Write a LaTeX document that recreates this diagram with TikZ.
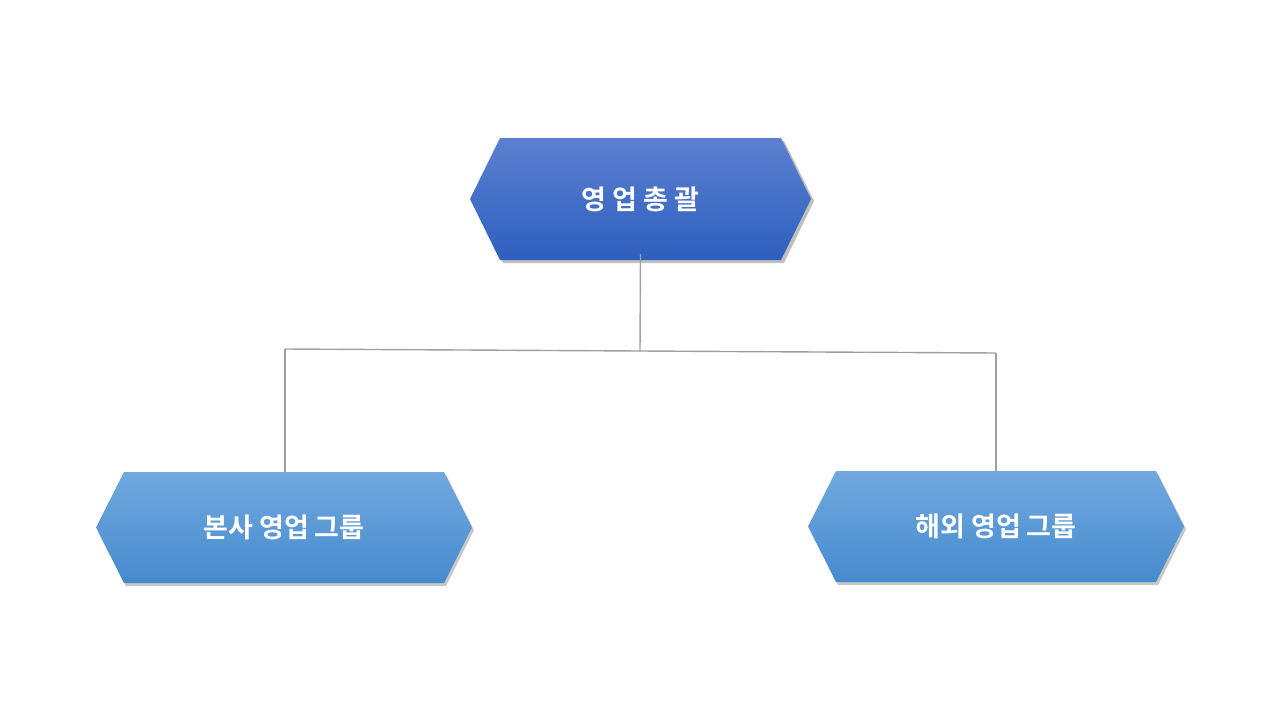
\documentclass[tikz,border=0pt]{standalone}
\usepackage{fontspec}
\newfontfamily\kr{Noto Sans CJK KR Bold}
\begin{document}
\begin{tikzpicture}[x=1pt,y=-1pt,
  lbl/.style={text=white,font=\kr\fontsize{27}{30}\selectfont,inner sep=0pt,minimum width=340pt,minimum height=110pt},
  conn/.style={draw=gray!75,line width=1.4pt}]
\useasboundingbox (0,0) rectangle (1280,720);
\fill[black!25] (473,201) -- (503,141) -- (784,141) -- (814,201) -- (784,263) -- (503,263) -- cycle;
\shade[top color={rgb,255:red,92;green,128;blue,208},bottom color={rgb,255:red,45;green,95;blue,190}]
  (470,199) -- (500,138) -- (781,138) -- (811,199) -- (781,260) -- (500,260) -- cycle;
\node[lbl] (top) at (640.5,199) {영 업 총 괄};
\foreach \x/\y/\n/\t in {96/472/L/본사 영업 그룹, 808/471/R/해외 영업 그룹}{
  \fill[black!22] (\x+2,\y+58) -- (\x+30,\y+3) -- (\x+350,\y+3) -- (\x+378,\y+58) -- (\x+350,\y+114) -- (\x+30,\y+114) -- cycle;
  \shade[top color={rgb,255:red,113;green,169;blue,223},bottom color={rgb,255:red,70;green,138;blue,206}]
    (\x,\y+55.5) -- (\x+28,\y) -- (\x+348,\y) -- (\x+376,\y+55.5) -- (\x+348,\y+111) -- (\x+28,\y+111) -- cycle;
  \node[lbl,minimum width=370pt] (\n) at (\x+188,\y+55.5) {\t};
}
\coordinate (jl) at (285,349);
\coordinate (jm) at (640,351);
\coordinate (jr) at (996,353);
\draw[conn] (top.south) -- (jm);
\draw[conn] (jl) -- (jm) -- (jr);
\draw[conn] (jl) -- (285,472);
\draw[conn] (jr) -- (996,471);
\end{tikzpicture}
\end{document}
